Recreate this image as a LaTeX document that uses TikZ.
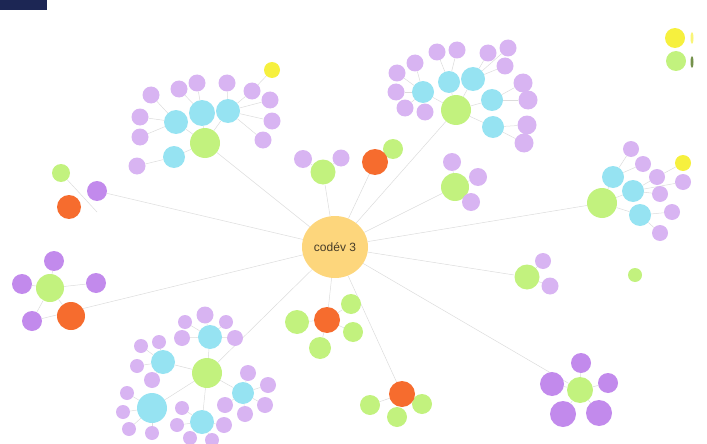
\documentclass[tikz,border=0pt]{standalone}
\usepackage{fontspec}
\setmainfont{Liberation Sans}
\usetikzlibrary{shapes.geometric,backgrounds}
\definecolor{navy}{RGB}{28,38,84}
\definecolor{pur}{RGB}{216,180,242}
\definecolor{purdk}{RGB}{194,138,236}
\definecolor{cya}{RGB}{150,227,242}
\definecolor{grn}{RGB}{194,242,126}
\definecolor{org}{RGB}{246,108,46}
\definecolor{yel}{RGB}{246,240,62}
\definecolor{ctr}{RGB}{253,214,124}
\definecolor{linegray}{RGB}{220,220,220}
\begin{document}
\begin{tikzpicture}[x=1pt,y=-1pt]
	\tikzset{bub/.style={circle,inner sep=0pt,minimum size=#1pt},
		lnk/.style={draw=linegray,line width=0.5pt}}
	\useasboundingbox (0,0) rectangle (707,444);
	\fill[navy] (0,0) rectangle (47,10);
	\path (335,247) node[ellipse,fill=ctr,minimum width=66pt,minimum height=62pt,inner sep=0pt,font=\fontsize{12}{14}\selectfont,text={rgb,255:red,70;green,60;blue,40}] (codev) {codév 3};
	\foreach \n/\x/\y/\s in {tlh/205/143/30,trh/456/110/30,cg1/323/172/25,cg2/393/149/20,cg3/455/187/28,rh/602/203/30,rg/635/275/14,rmg/527/277/25,brh/580/390/26,bcg1/297/322/24,bcg2/351/304/20,bcg3/353/332/20,bcg4/320/348/22,bog1/370/405/20,bog2/397/417/20,bog3/422/404/20,blh/207/373/30,lg/61/173/18,llg/50/288/28,lgg/676/61/20}
	\path (\x,\y) node[bub=\s,fill=grn] (\n) {};
	\foreach \n/\x/\y/\s in {tlc1/176/122/24,tlc2/202/113/26,tlc3/228/111/24,tlc4/174/157/22,trc1/423/92/22,trc2/449/82/22,trc3/473/79/24,trc4/492/100/22,trc5/493/127/22,rc1/613/177/22,rc2/633/191/22,rc3/640/215/22,blc1/210/337/24,blc2/163/362/24,blc3/152/408/30,blc4/202/422/24,blc5/243/393/22}
	\path (\x,\y) node[bub=\s,fill=cya] (\n) {};
	\foreach \n/\x/\y/\s in {co1/375/162/26,bco/327/320/26,bo2/402/394/26,lo/69/207/24,llo/71/316/28}
	\path (\x,\y) node[bub=\s,fill=org] (\n) {};
	\foreach \n/\x/\y/\s in {tly/272/70/16,ry/683/163/16,ly/675/38/20}
	\path (\x,\y) node[bub=\s,fill=yel] (\n) {};
	\foreach \n/\x/\y/\s in {tlp1/151/95/17,tlp2/140/117/17,tlp3/140/137/17,tlp4/179/89/17,tlp5/197/83/17,tlp6/227/83/17,tlp7/252/91/17,tlp8/270/100/17,tlp9/272/121/17,tlp10/263/140/17,tlp11/137/166/17,
		trp1/397/73/17,trp2/415/63/17,trp3/437/52/17,trp4/457/50/17,trp5/488/53/17,trp6/508/48/17,trp7/505/66/17,trp8/396/92/17,trp9/405/108/17,trp10/425/112/17,trp11/523/83/19,trp12/528/100/19,trp13/527/125/19,trp14/524/143/19,
		rp1/631/149/16,rp2/643/164/16,rp3/657/177/16,rp4/660/194/16,rp5/672/212/16,rp6/660/233/16,rp7/683/182/16,
		cp1/303/159/18,cp2/341/158/17,cp3/452/162/18,cp4/478/177/18,cp5/471/202/18,rmp1/543/261/16,rmp2/550/286/17,
		blp1/205/315/17,blp2/185/322/14,blp3/226/322/14,blp4/182/338/16,blp5/235/338/16,blp6/141/346/14,blp7/159/342/14,blp8/137/366/14,blp9/152/380/16,blp10/127/393/14,blp11/123/412/14,blp12/129/429/14,
		blp13/152/433/14,blp14/182/408/14,blp15/177/425/14,blp16/190/438/14,blp17/212/440/14,blp18/225/405/16,blp19/224/425/16,blp20/248/373/16,blp21/268/385/16,blp22/265/405/16,blp23/245/414/16}
	\path (\x,\y) node[bub=\s,fill=pur] (\n) {};
	\foreach \n/\x/\y/\s in {brp1/581/363/20,brp2/608/383/20,brp3/552/384/24,brp4/563/414/26,brp5/599/413/26,lp/97/191/20,llp1/54/261/20,llp2/22/284/20,llp3/96/283/20,llp4/32/321/20}
	\path (\x,\y) node[bub=\s,fill=purdk] (\n) {};
	\fill[yel!70] (692,38) ellipse (1.5 and 6);
	\fill[grn!60!black] (692,62) ellipse (1.5 and 6);
	\coordinate (lj) at (97,212);
	\begin{scope}[on background layer]
		\foreach \a in {tlh,trh,cg1,co1,cg3,rh,rmg,brh,bco,bo2,blh,lp,llp4}
		\draw[lnk] (codev) -- (\a);
		\foreach \a/\b in {tlh/tlc1,tlh/tlc2,tlh/tlc3,tlh/tlc4,tlc1/tlp1,tlc1/tlp2,tlc1/tlp3,tlc2/tlp4,tlc2/tlp5,tlc3/tlp6,tlc3/tlp7,tlc3/tlp8,tlc3/tlp9,tlc3/tlp10,tlc4/tlp11,tly/tlp7,
			trh/trc1,trh/trc2,trh/trc3,trh/trc4,trh/trc5,trc1/trp1,trc1/trp2,trc1/trp8,trc1/trp9,trc1/trp10,trc2/trp3,trc2/trp4,trc3/trp5,trc3/trp6,trc3/trp7,trc4/trp11,trc4/trp12,trc5/trp13,trc5/trp14,
			rh/rc1,rh/rc2,rh/rc3,rc1/rp1,rc1/rp2,rc2/rp3,rc2/rp4,rc2/rp7,rc3/rp5,rc3/rp6,ry/rp3,
			cg1/cp1,cg1/cp2,co1/cg2,cg3/cp3,cg3/cp4,cg3/cp5,rmg/rmp1,rmg/rmp2,
			brh/brp1,brh/brp2,brh/brp3,brh/brp4,brh/brp5,bco/bcg1,bco/bcg2,bco/bcg3,bco/bcg4,bo2/bog1,bo2/bog2,bo2/bog3,
			blh/blc1,blh/blc2,blh/blc3,blh/blc4,blh/blc5,blc1/blp1,blc1/blp2,blc1/blp3,blc1/blp4,blc1/blp5,blc2/blp6,blc2/blp7,blc2/blp8,blc2/blp9,
			blc3/blp10,blc3/blp11,blc3/blp12,blc3/blp13,blc4/blp14,blc4/blp15,blc4/blp16,blc4/blp17,blc4/blp19,blc5/blp18,blc5/blp20,blc5/blp21,blc5/blp22,blc5/blp23,
			llg/llp1,llg/llp2,llg/llp3,llg/llp4,llg/llo}
		\draw[lnk] (\a) -- (\b);
		\draw[lnk] (lg) -- (lj);
	\end{scope}
\end{tikzpicture}
\end{document}
